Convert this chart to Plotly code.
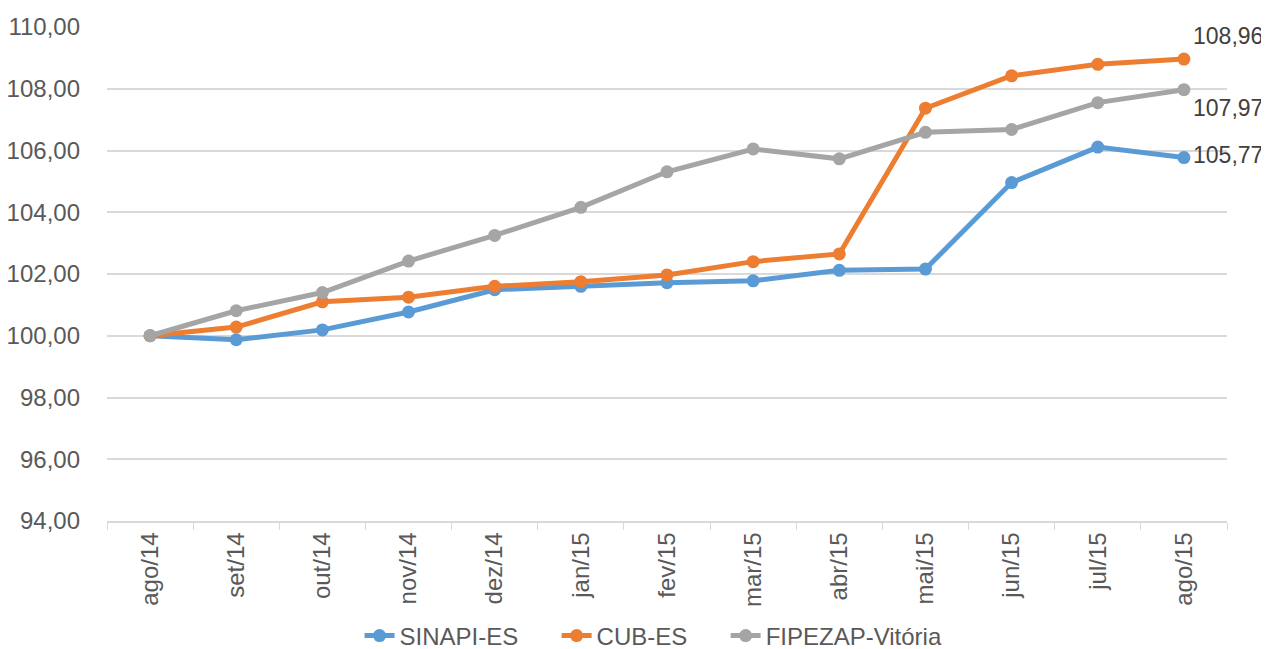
import plotly.graph_objects as go

months = ["ago/14", "set/14", "out/14", "nov/14", "dez/14", "jan/15", "fev/15",
          "mar/15", "abr/15", "mai/15", "jun/15", "jul/15", "ago/15"]
sinapi = [100.00, 99.87, 100.19, 100.77, 101.49, 101.60, 101.72, 101.78, 102.12, 102.16, 104.96, 106.11, 105.77]
cub = [100.00, 100.28, 101.10, 101.25, 101.60, 101.75, 101.97, 102.40, 102.65, 107.37, 108.42, 108.79, 108.96]
fipezap = [100.00, 100.81, 101.40, 102.42, 103.25, 104.16, 105.31, 106.05, 105.73, 106.59, 106.68, 107.55, 107.97]
y_ticks = [94, 96, 98, 100, 102, 104, 106, 108, 110]

PAD = "\u00a0" * 5
series = [
    ("SINAPI-ES", sinapi, "#5B9BD5", "middle right", PAD),
    ("CUB-ES", cub, "#ED7D31", "top right", PAD),
    ("FIPEZAP-Vitória", fipezap, "#A5A5A5", "bottom right", ""),
]

FONT = "Liberation Sans, Arial, sans-serif"
FS = 24

def fmt(v):
    return f"{v:.2f}".replace(".", ",")

fig = go.Figure()
for name, vals, color, pos, pad in series:
    labels = [""] * (len(vals) - 1) + [fmt(vals[-1])]
    fig.add_trace(go.Scatter(
        x=months, y=vals, name=name + pad, mode="lines+markers+text",
        line=dict(color=color, width=5),
        marker=dict(color=color, size=13),
        text=labels, textposition=pos,
        textfont=dict(family=FONT, size=23, color="#404040"),
        cliponaxis=False,
    ))

# page body has an 8px default margin; figure sized to fill the rest
fig.update_layout(
    width=1261, height=641,
    margin=dict(l=99, r=42, t=19, b=128, autoexpand=False),
    paper_bgcolor="white", plot_bgcolor="white",
    font=dict(family=FONT, size=FS, color="#595959"),
    showlegend=True,
    legend=dict(orientation="h", x=0.488, xanchor="center",
                yref="container", y=0.0203, yanchor="middle",
                font=dict(family=FONT, size=FS, color="#595959"),
                itemwidth=30, tracegroupgap=0),
    xaxis=dict(
        type="category", categoryorder="array", categoryarray=months,
        tickangle=-90, tickson="boundaries", ticks="outside", ticklen=7,
        tickcolor="#D9D9D9", showline=True, linecolor="#D9D9D9", linewidth=1.5,
        showgrid=False, tickfont=dict(size=FS, color="#595959"),
        range=[-0.5, 12.5], automargin=False,
    ),
    yaxis=dict(
        range=[94, 110],
        tickvals=y_ticks,
        ticktext=[fmt(v) for v in y_ticks],
        showgrid=True, gridcolor="#D9D9D9", gridwidth=1.5,
        zeroline=False, showline=False, ticks="",
        ticklabelstandoff=26, automargin=False,
        tickfont=dict(size=FS, color="#595959"),
    ),
)

fig.write_html("out.html")
